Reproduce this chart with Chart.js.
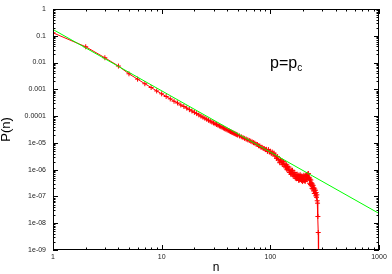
<!DOCTYPE html>
<html>
<head>
<meta charset="utf-8">
<title>P(n) at p=pc</title>
<script src="https://cdn.jsdelivr.net/npm/chart.js@4.4.1/dist/chart.umd.min.js"></script>
<style>
    html, body { margin: 0; padding: 0; background: #fff; }
    canvas { display: block; }
</style>
</head>
<body>
<canvas id="chart" width="392" height="274"></canvas>
<script>
// Cluster size distribution P(n)
const nValues = [
    1, 2, 3, 4, 5, 6, 7, 8, 9, 10, 11, 12, 13, 14, 15, 16, 17, 18, 19, 20,
    21, 22, 23, 24, 25, 26, 27, 28, 29, 30, 31, 32, 33, 34, 35, 36, 37, 38, 39, 40,
    41, 42, 43, 44, 45, 46, 47, 48, 49, 50,
    52, 54, 56, 58, 60, 62, 64, 66, 68, 70, 72, 74, 76, 78, 80, 82, 84, 86, 88, 90,
    92, 94, 96, 98, 100, 102, 104, 106, 108, 110, 112, 114, 116, 118, 120,
    122, 124, 126, 128, 130, 132, 134, 136, 138, 140, 142, 144, 146, 148, 150,
    152, 154, 156, 158, 160, 162, 164, 166, 168, 170, 172, 174, 176, 178, 180,
    182, 184, 186, 188, 190, 192, 194, 196, 198, 200, 202, 204, 206, 208, 210,
    212, 214, 216, 218, 220, 222, 224, 226, 228, 230, 232, 234, 236, 238, 240,
    242, 244, 246, 248, 250, 252, 254, 256, 258, 260, 262, 264, 266, 268, 270,
    272, 274, 276, 278
];
const pValues = [
    0.129, 0.0389, 0.0151, 0.0074, 0.0038, 0.0024, 0.00162, 0.00117, 0.00087, 0.00068,
    0.00054, 0.00044, 0.00036, 0.00031, 0.00026, 0.00023, 0.0002, 0.000174, 0.000155, 0.000138,
    1.24e-4, 1.11e-4, 1.0e-4, 9.1e-5, 8.3e-5, 7.6e-5, 6.98e-5, 6.46e-5, 5.97e-5, 5.56e-5,
    5.19e-5, 4.86e-5, 4.57e-5, 4.27e-5, 4.03e-5, 3.8e-5, 3.59e-5, 3.39e-5, 3.21e-5, 3.05e-5,
    2.9e-5, 2.77e-5, 2.64e-5, 2.52e-5, 2.42e-5, 2.31e-5, 2.22e-5, 2.13e-5, 2.04e-5, 1.96e-5,
    1.82e-5, 1.69e-5, 1.58e-5, 1.47e-5, 1.38e-5, 1.3e-5, 1.23e-5, 1.16e-5, 1.09e-5, 1.02e-5,
    9.8e-6, 8.9e-6, 8.7e-6, 7.8e-6, 7.7e-6, 6.9e-6, 6.8e-6, 6.2e-6, 6.1e-6, 5.6e-6,
    5.75e-6, 4.79e-6, 5.62e-6, 4.57e-6, 4.9e-6, 3.98e-6, 4.57e-6, 3.8e-6, 4.17e-6, 3.24e-6,
    3.47e-6, 2.63e-6, 3.09e-6, 2.29e-6, 2.45e-6,
    1.82e-6, 2.34e-6, 1.78e-6, 2.14e-6, 1.55e-6, 2.0e-6, 1.35e-6, 1.66e-6, 1.26e-6, 1.58e-6,
    1.0e-6, 1.29e-6, 9.5e-7, 1.26e-6, 7.9e-7,
    9.8e-7, 6.8e-7, 9.5e-7, 6.8e-7, 9.5e-7, 5.9e-7, 7.8e-7, 5.6e-7, 7.8e-7, 4.8e-7,
    6.6e-7, 4.6e-7, 6.8e-7, 4.7e-7, 6.3e-7,
    4.0e-7, 5.9e-7, 4.1e-7, 6.5e-7, 4.4e-7, 5.9e-7, 3.9e-7, 5.4e-7, 3.6e-7, 5.75e-7,
    4.0e-7, 6.2e-7, 3.8e-7, 5.6e-7, 3.7e-7,
    6.3e-7, 4.3e-7, 6.2e-7, 4.2e-7, 6.8e-7, 4.9e-7, 7.2e-7, 4.6e-7, 5.2e-7, 3.1e-7,
    4.4e-7, 2.8e-7, 4.1e-7, 2.5e-7, 3.2e-7,
    2.0e-7, 2.9e-7, 1.9e-7, 2.6e-7, 1.6e-7, 2.1e-7, 1.3e-7, 1.9e-7, 1.3e-7, 1.7e-7,
    1.05e-7, 1.4e-7, 9.3e-8, 1.15e-7, 6.9e-8,
    5.6e-8, 1.78e-8, 4.5e-9, 1e-10
];

// Power law guide line (two end points)
const fitN = [1, 1000];
const fitP = [0.172, 2.32e-8];

const xTickValues = [1, 10, 100, 1000];
const xTickLabels = ['1', '10', '100', '1000'];
const yTickValues = [1, 0.1, 0.01, 0.001, 0.0001, 1e-5, 1e-6, 1e-7, 1e-8, 1e-9];
const yTickLabels = ['1', '0.1', '0.01', '0.001', '0.0001', '1e-05', '1e-06', '1e-07', '1e-08', '1e-09'];

const FONT = "'Liberation Sans', Arial, sans-serif";

// gnuplot style frame with inward major/minor ticks, plus the label
const framePlugin = {
    id: 'frame',
    afterDatasetsDraw(chart) {
        const ctx = chart.ctx;
        const a = chart.chartArea;
        const x = chart.scales.x;
        const y = chart.scales.y;
        ctx.save();
        ctx.strokeStyle = '#000';
        ctx.lineWidth = 1;
        ctx.beginPath();

        const major = 5, minor = 2.5;
        for (let d = 1; d <= 1000; d *= 10) {
            for (let m = 1; m <= 9; m++) {
                const v = d * m;
                if (v > 1000) break;
                const px = Math.round(x.getPixelForValue(v)) + 0.5;
                const len = m === 1 ? major : minor;
                ctx.moveTo(px, a.bottom); ctx.lineTo(px, a.bottom - len);
                ctx.moveTo(px, a.top); ctx.lineTo(px, a.top + len);
            }
        }
        for (let e = -9; e <= 0; e++) {
            for (let m = 1; m <= 9; m++) {
                const v = m * Math.pow(10, e);
                if (v > 1) break;
                const py = Math.round(y.getPixelForValue(v)) + 0.5;
                const len = m === 1 ? major : minor;
                ctx.moveTo(a.left, py); ctx.lineTo(a.left + len, py);
                ctx.moveTo(a.right, py); ctx.lineTo(a.right - len, py);
            }
        }
        ctx.stroke();

        ctx.strokeRect(Math.round(a.left) + 0.5, Math.round(a.top) + 0.5,
            Math.round(a.right - a.left) - 1, Math.round(a.bottom - a.top) - 1);

        // p=p_c annotation
        ctx.fillStyle = '#000';
        ctx.textBaseline = 'alphabetic';
        ctx.textAlign = 'left';
        ctx.font = '16px ' + FONT;
        ctx.fillText('p=p', 270, 68);
        const w = ctx.measureText('p=p').width;
        ctx.font = '10px ' + FONT;
        ctx.fillText('c', 270 + w, 71);
        ctx.restore();
    }
};

const chart = new Chart(document.getElementById('chart'), {
    type: 'line',
    data: {
        datasets: [{
            label: 'P(n)',
            data: nValues.map((n, i) => ({ x: n, y: pValues[i] })),
            borderColor: '#ff0000',
            backgroundColor: '#ff0000',
            borderWidth: 1,
            pointStyle: 'cross',
            pointRadius: 2.5,
            pointBorderWidth: 1,
            order: 1
        }, {
            label: 'fit',
            data: fitN.map((n, i) => ({ x: n, y: fitP[i] })),
            borderColor: '#00ff00',
            borderWidth: 1,
            pointRadius: 0,
            order: 0
        }]
    },
    options: {
        responsive: false,
        animation: false,
        devicePixelRatio: 1,
        layout: { padding: { top: 9, right: 13, left: 0, bottom: 0 } },
        plugins: {
            legend: { display: false },
            tooltip: { enabled: false }
        },
        scales: {
            x: {
                type: 'logarithmic',
                min: 1,
                max: 1000,
                afterBuildTicks: s => { s.ticks = xTickValues.map(v => ({ value: v })); },
                afterFit: s => { s.height = 24; s.paddingLeft = 0; s.paddingRight = 0; },
                grid: { display: false, drawTicks: false },
                border: { display: false },
                ticks: {
                    autoSkip: false,
                    maxRotation: 0,
                    padding: 3,
                    color: '#222',
                    font: { family: FONT, size: 7 },
                    callback: (v, i) => xTickLabels[i]
                },
                title: {
                    display: true,
                    text: 'n',
                    color: '#000',
                    font: { family: FONT, size: 12, lineHeight: 1 },
                    padding: 0
                }
            },
            y: {
                type: 'logarithmic',
                min: 1e-9,
                max: 1,
                afterBuildTicks: s => { s.ticks = yTickValues.map(v => ({ value: v })); },
                afterFit: s => { s.width = 53; s.paddingTop = 0; s.paddingBottom = 0; },
                grid: { display: false, drawTicks: false },
                border: { display: false },
                ticks: {
                    autoSkip: false,
                    padding: 7,
                    color: '#222',
                    font: { family: FONT, size: 7 },
                    callback: (v, i) => yTickLabels[i]
                },
                title: {
                    display: true,
                    text: 'P(n)',
                    color: '#000',
                    font: { family: FONT, size: 13, lineHeight: 1 },
                    padding: 0
                }
            }
        }
    },
    plugins: [framePlugin]
});
</script>
</body>
</html>
